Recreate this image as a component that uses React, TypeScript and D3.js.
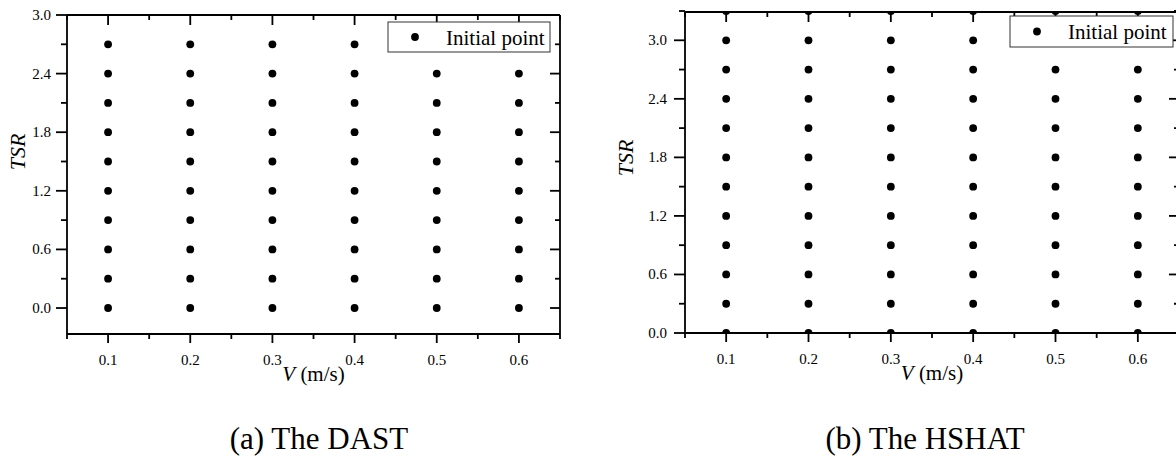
import React from "react";
import * as d3 from "d3";

// ---------- data ----------
const V_VALUES = [0.1, 0.2, 0.3, 0.4, 0.5, 0.6];

// DAST: TSR initial points per V
const DAST_TSR_LOW_V = [0, 0.3, 0.6, 0.9, 1.2, 1.5, 1.8, 2.1, 2.4, 2.7]; // V = 0.1 – 0.4
const DAST_TSR_HIGH_V = [0, 0.3, 0.6, 0.9, 1.2, 1.5, 1.8, 2.1, 2.4]; // V = 0.5, 0.6
const DAST_POINTS_PER_V = [DAST_TSR_LOW_V, DAST_TSR_LOW_V, DAST_TSR_LOW_V, DAST_TSR_LOW_V, DAST_TSR_HIGH_V, DAST_TSR_HIGH_V];

// HSHAT: TSR initial points per V
const HSHAT_TSR = [0, 0.3, 0.6, 0.9, 1.2, 1.5, 1.8, 2.1, 2.4, 2.7, 3.0, 3.3];
const HSHAT_POINTS_PER_V = [HSHAT_TSR, HSHAT_TSR, HSHAT_TSR, HSHAT_TSR, HSHAT_TSR, HSHAT_TSR];

// axes
const X_DOMAIN = [0.05, 0.65];
const X_MAJOR = [0.1, 0.2, 0.3, 0.4, 0.5, 0.6];
const X_MINOR = [0.05, 0.15, 0.25, 0.35, 0.45, 0.55, 0.65];
const X_LABELS = ["0.1", "0.2", "0.3", "0.4", "0.5", "0.6"];

const DAST_Y_DOMAIN = [-0.266, 3.0];
const HSHAT_Y_DOMAIN = [0, 3.29];
const Y_MAJOR = [0, 0.6, 1.2, 1.8, 2.4, 3.0];
const Y_LABELS = ["0.0", "0.6", "1.2", "1.8", "2.4", "3.0"];
const DAST_Y_MINOR = [0.3, 0.9, 1.5, 2.1, 2.7];
const HSHAT_Y_MINOR = [0.3, 0.9, 1.5, 2.1, 2.7, 3.3];

const CAPTIONS = ["(a) The DAST", "(b) The HSHAT"];
const LEGEND_LABEL = "Initial point";
const X_TITLE_ITALIC = "V";
const X_TITLE_REST = " (m/s)";
const Y_TITLE = "TSR";

const FONT = "Liberation Serif, Tinos, Times New Roman, DejaVu Serif, serif";

type PanelProps = {
  id: string;
  left: number;
  right: number;
  top: number;
  bottom: number;
  yDomain: number[];
  yMinor: number[];
  points: number[][];
  clip: boolean;
  yTitleX: number;
  yTitleY: number;
  tickLabelX: number;
  legend: { x: number; y: number; w: number; h: number };
  caption: string;
  captionX: number;
};

function Panel(p: PanelProps) {
  const x = d3.scaleLinear().domain(X_DOMAIN).range([p.left, p.right]);
  const y = d3.scaleLinear().domain(p.yDomain).range([p.bottom, p.top]);
  const sw = 1.8;
  const dots: { v: number; t: number }[] = [];
  V_VALUES.forEach((v, i) => p.points[i].forEach((t) => dots.push({ v, t })));
  const xMid = (p.left + p.right) / 2;

  return (
    <g>
      <defs>
        <clipPath id={p.id + "-clip"}>
          <rect x={p.left} y={p.top} width={p.right - p.left} height={p.bottom - p.top} />
        </clipPath>
      </defs>
      <g clipPath={p.clip ? `url(#${p.id}-clip)` : undefined}>
        {dots.map((d, i) => (
          <circle key={i} cx={x(d.v)} cy={y(d.t)} r={3.9} fill="#000" />
        ))}
      </g>
      {/* axes frame */}
      <g stroke="#000" strokeWidth={sw} fill="none">
        <line x1={p.left} x2={p.right} y1={p.bottom} y2={p.bottom} />
        <line x1={p.left} x2={p.right} y1={p.top} y2={p.top} />
        <line x1={p.left} x2={p.left} y1={p.top} y2={p.bottom} />
        <line x1={p.right} x2={p.right} y1={p.top} y2={p.bottom} />
        {X_MAJOR.map((v) => (
          <line key={"bM" + v} x1={x(v)} x2={x(v)} y1={p.bottom} y2={p.bottom + 9} />
        ))}
        {X_MINOR.map((v) => (
          <line key={"bm" + v} x1={x(v)} x2={x(v)} y1={p.bottom} y2={p.bottom + 5} />
        ))}
        {X_MAJOR.map((v) => (
          <line key={"tM" + v} x1={x(v)} x2={x(v)} y1={p.top} y2={p.top + 10} />
        ))}
        {X_MINOR.map((v) => (
          <line key={"tm" + v} x1={x(v)} x2={x(v)} y1={p.top} y2={p.top + 5} />
        ))}
        {Y_MAJOR.map((v) => (
          <line key={"lM" + v} x1={p.left - 11} x2={p.left} y1={y(v)} y2={y(v)} />
        ))}
        {p.yMinor.map((v) => (
          <line key={"lm" + v} x1={p.left - 6} x2={p.left} y1={y(v)} y2={y(v)} />
        ))}
        {Y_MAJOR.map((v) => (
          <line key={"rM" + v} x1={p.right - 10} x2={p.right} y1={y(v)} y2={y(v)} />
        ))}
        {p.yMinor.map((v) => (
          <line key={"rm" + v} x1={p.right - 5} x2={p.right} y1={y(v)} y2={y(v)} />
        ))}
      </g>
      {/* tick labels */}
      <g fontFamily={FONT} fontSize={15} fill="#000">
        {X_MAJOR.map((v, i) => (
          <text key={"xl" + v} x={x(v)} y={p.bottom + 31} textAnchor="middle">
            {X_LABELS[i]}
          </text>
        ))}
        {Y_MAJOR.map((v, i) => (
          <text key={"yl" + v} x={p.tickLabelX} y={y(v) + 5} textAnchor="end">
            {Y_LABELS[i]}
          </text>
        ))}
      </g>
      {/* axis titles */}
      <text x={xMid} y={p.bottom + 47} textAnchor="middle" fontFamily={FONT} fontSize={21} fill="#000">
        <tspan fontStyle="italic">{X_TITLE_ITALIC}</tspan>
        <tspan>{X_TITLE_REST}</tspan>
      </text>
      <text
        transform={`translate(${p.yTitleX},${p.yTitleY}) rotate(-90)`}
        textAnchor="middle"
        fontFamily={FONT}
        fontSize={22}
        fontStyle="italic"
        fill="#000"
      >
        {Y_TITLE}
      </text>
      {/* legend */}
      <g>
        <rect x={p.legend.x} y={p.legend.y} width={p.legend.w} height={p.legend.h} fill="#fff" stroke="#333" strokeWidth={1} />
        <circle cx={p.legend.x + 27} cy={p.legend.y + p.legend.h / 2} r={3.9} fill="#000" />
        <text x={p.legend.x + 58} y={p.legend.y + p.legend.h / 2 + 7.5} fontFamily={FONT} fontSize={21} fill="#000">
          {LEGEND_LABEL}
        </text>
      </g>
      {/* caption */}
      <text x={p.captionX} y={449} textAnchor="middle" fontFamily={FONT} fontSize={31} fill="#000">
        {p.caption}
      </text>
    </g>
  );
}

export default function App() {
  React.useEffect(() => {
    document.body.style.margin = "0";
  }, []);
  return (
    <svg width={1176} height={472} style={{ display: "block", background: "#fff" }}>
      <rect width={1176} height={472} fill="#fff" />
      <Panel
        id="dast"
        left={67}
        right={560}
        top={15}
        bottom={334}
        yDomain={DAST_Y_DOMAIN}
        yMinor={DAST_Y_MINOR}
        points={DAST_POINTS_PER_V}
        clip={false}
        yTitleX={25}
        yTitleY={152}
        tickLabelX={51}
        legend={{ x: 388, y: 22, w: 162, h: 30 }}
        caption={CAPTIONS[0]}
        captionX={319}
      />
      <Panel
        id="hshat"
        left={685}
        right={1179}
        top={12}
        bottom={333}
        yDomain={HSHAT_Y_DOMAIN}
        yMinor={HSHAT_Y_MINOR}
        points={HSHAT_POINTS_PER_V}
        clip={true}
        yTitleX={633}
        yTitleY={158}
        tickLabelX={667}
        legend={{ x: 1010, y: 16, w: 163, h: 31 }}
        caption={CAPTIONS[1]}
        captionX={925}
      />
    </svg>
  );
}
